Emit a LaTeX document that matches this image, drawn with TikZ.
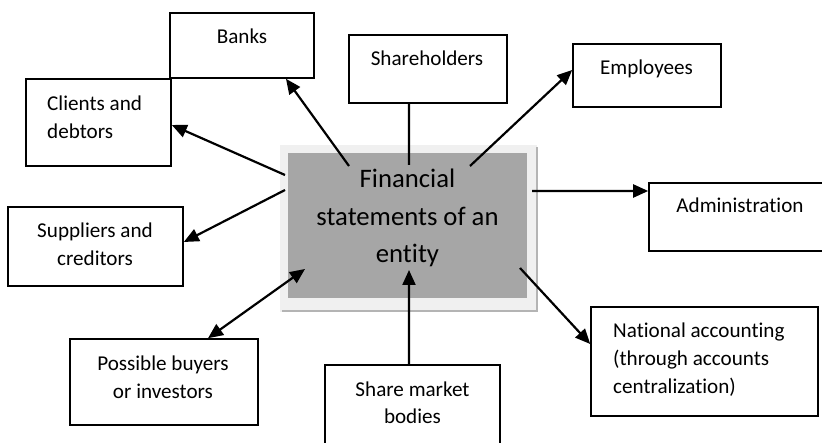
\documentclass[tikz,border=0pt]{standalone}
\usepackage{fontspec}
\setmainfont{Carlito}[Ligatures=NoCommon]
\usetikzlibrary{arrows.meta}
\definecolor{panelfill}{HTML}{A6A6A6}
\definecolor{panelframe}{HTML}{F0F0F0}
\definecolor{panelshade}{HTML}{B4B4B4}
\tikzset{
  actor/.style={draw=black, line width=1.6bp, fill=white, inner sep=0pt},
  flow/.style={line width=2.2bp, -{Triangle[length=15bp,width=13bp]}},
  both/.style={line width=2.2bp, {Triangle[length=15bp,width=13bp]}-{Triangle[length=15bp,width=13bp]}},
  plain/.style={line width=2.2bp},
  lbl/.style={inner sep=0pt, anchor=base},
  lblleft/.style={inner sep=0pt, anchor=base west},
}
\newcommand{\smalltxt}{\fontsize{21.2}{28}\selectfont}
\newcommand{\bigtxt}{\fontsize{26.8}{37.5}\selectfont}
\begin{document}
\begin{tikzpicture}[x=1bp, y=-1bp]
\clip (0,0) rectangle (822,443);
\fill[white] (0,0) rectangle (822,443);

% central panel with its raised frame
\fill[panelframe] (280,145) rectangle (537,312);
\draw[panelshade, line width=2bp] (282,311) -- (537,311) -- (537,147);
\node[fill=panelfill, inner sep=0pt, minimum width=239bp, minimum height=145bp] (fs) at (407.5,225.5) {};
\node[lbl] (fs-t) at (407.5,188) {\parbox[t]{240bp}{\centering\bigtxt Financial\\statements of an\\entity}};

% surrounding users
\node[actor, minimum width=144bp, minimum height=65bp] (banks) at (242,45.5) {};
\node[lbl] (banks-t) at (242,44) {\parbox[t]{140bp}{\centering\smalltxt Banks}};

\node[actor, minimum width=145bp, minimum height=87bp] (clients) at (98.5,122.5) {};
\node[lblleft] (clients-t) at (47,111) {\parbox[t]{120bp}{\raggedright\smalltxt Clients and\\debtors}};

\node[actor, minimum width=158bp, minimum height=68bp] (holders) at (428,69) {};
\node[lbl] (holders-t) at (427,66) {\parbox[t]{150bp}{\centering\smalltxt Shareholders}};

\node[actor, minimum width=148bp, minimum height=63bp] (employees) at (647,75.5) {};
\node[lbl] (employees-t) at (646.5,75) {\parbox[t]{140bp}{\centering\smalltxt Employees}};

\node[actor, minimum width=231bp, minimum height=68bp] (admin) at (764.5,217) {};
\node[lbl] (admin-t) at (740,213) {\parbox[t]{160bp}{\centering\smalltxt Administration}};

\node[actor, minimum width=227bp, minimum height=109bp] (national) at (704.5,361.5) {};
\node[lblleft] (national-t) at (613,338) {\parbox[t]{200bp}{\raggedright\smalltxt National accounting\\(through accounts\\centralization)}};

\node[actor, minimum width=175bp, minimum height=79bp] (suppliers) at (95.5,246.5) {};
\node[lbl] (suppliers-t) at (95,238) {\parbox[t]{170bp}{\centering\smalltxt Suppliers and\\creditors}};

\node[actor, minimum width=188bp, minimum height=86bp] (buyers) at (164,382) {};
\node[lbl] (buyers-t) at (163,371) {\parbox[t]{180bp}{\centering\smalltxt Possible buyers\\or investors}};

\node[actor, minimum width=175bp, minimum height=115bp] (sharemkt) at (412.5,422.5) {};
\node[lbl] (sharemkt-t) at (412.5,396) {\parbox[t]{170bp}{\centering\smalltxt Share market\\bodies}};

% connector ends on the central panel
\coordinate (fs-banks) at (349,166);
\coordinate (fs-clients) at (285,175);
\coordinate (fs-suppliers) at (285,190);
\coordinate (fs-buyers) at (305,269);
\coordinate (fs-employees) at (470,166);
\coordinate (fs-admin) at (532,191);
\coordinate (fs-national) at (520,268);
\coordinate (fs-share) at (409,270);
\coordinate (fs-holders) at (409,165);

% information flows
\draw[flow] (fs-banks) -- ([xshift=44bp]banks.south);
\draw[flow] (fs-clients) -- ([yshift=-2.5bp]clients.east);
\draw[flow] (fs-suppliers) -- ([yshift=4.5bp]suppliers.east);
\draw[both] ([xshift=44bp]buyers.north) -- (fs-buyers);
\draw[flow] (fs-employees) -- ([yshift=5.5bp]employees.west);
\draw[flow] (fs-admin) -- ([yshift=26bp]admin.west);
\draw[flow] (fs-national) -- ([yshift=17.5bp]national.west);
\draw[flow] ([xshift=-3.5bp]sharemkt.north) -- (fs-share);
\draw[plain] ([xshift=-19bp]holders.south) -- (fs-holders);
\end{tikzpicture}
\end{document}
